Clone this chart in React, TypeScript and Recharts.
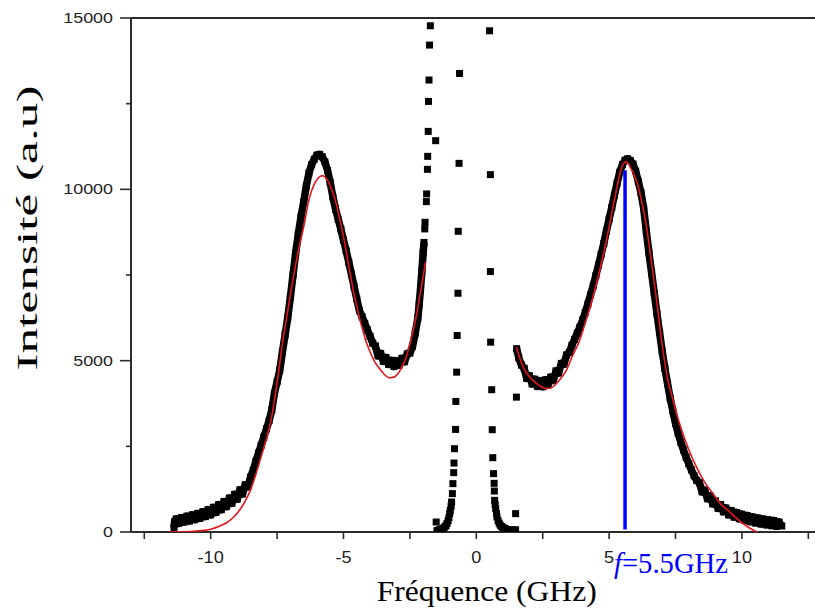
import React from "react";
import { ComposedChart, XAxis, YAxis, Line, Scatter, ReferenceLine } from "recharts";

// ---------- data ----------
// Broad left Brillouin peak (black squares) [GHz, intensity]
const leftPeak: [number, number][] = [
  [-11.38, 120], [-11.36, 300], [-11.3, 380], [-11.2, 250], [-11.1, 420], [-11.0, 290], [-10.9, 460], [-10.8, 320],
  [-10.7, 500], [-10.6, 360], [-10.5, 540], [-10.4, 400], [-10.3, 590], [-10.2, 450], [-10.1, 650], [-10.0, 500],
  [-9.9, 720], [-9.8, 570], [-9.7, 800], [-9.6, 650], [-9.5, 890], [-9.4, 740], [-9.3, 990], [-9.2, 840],
  [-9.1, 1100], [-9.0, 960], [-8.9, 1230], [-8.8, 1110], [-8.7, 1380], [-8.6, 1320], [-8.5, 1600], [-8.4, 1800],
  [-8.3, 2060], [-8.2, 2300], [-8.1, 2530], [-8.0, 2770], [-7.9, 3010], [-7.8, 3250], [-7.7, 3560], [-7.6, 4050],
  [-7.5, 4380], [-7.4, 4720], [-7.3, 5250], [-7.2, 5750], [-7.1, 6250], [-7.0, 6850], [-6.9, 7500], [-6.8, 8150],
  [-6.7, 8700], [-6.6, 9200], [-6.5, 9620], [-6.4, 10100], [-6.3, 10480], [-6.2, 10720], [-6.1, 10880], [-6.0, 11000],
  [-5.9, 11020], [-5.8, 10950], [-5.7, 10800], [-5.6, 10550], [-5.5, 10200], [-5.4, 9780], [-5.3, 9430], [-5.2, 9130],
  [-5.1, 8840], [-5.0, 8520], [-4.9, 8210], [-4.8, 7870], [-4.7, 7520], [-4.6, 7160], [-4.5, 6800], [-4.4, 6460],
  [-4.3, 6280], [-4.2, 6090], [-4.1, 5900], [-4.0, 5710], [-3.9, 5510], [-3.8, 5430], [-3.7, 5140], [-3.6, 5210],
  [-3.5, 4980], [-3.4, 5090], [-3.3, 4890], [-3.2, 5010], [-3.1, 4830], [-3.0, 5000], [-2.9, 4870], [-2.8, 5070],
  [-2.7, 4970], [-2.6, 5200], [-2.5, 5220], [-2.4, 5420], [-2.3, 5800], [-2.2, 6250], [-2.15, 6650], [-2.1, 7100],
  [-2.05, 7600], [-2.0, 8150], [-1.97, 8450],
];

// Broad right Brillouin peak (black squares)
const rightPeak: [number, number][] = [
  [1.52, 5350], [1.6, 5080], [1.7, 4870], [1.8, 4780], [1.9, 4480], [2.0, 4560], [2.1, 4320], [2.2, 4460],
  [2.3, 4250], [2.4, 4420], [2.5, 4240], [2.6, 4440], [2.7, 4290], [2.8, 4520], [2.9, 4420], [3.0, 4700],
  [3.1, 4640], [3.2, 4920], [3.3, 4900], [3.4, 5170], [3.5, 5240], [3.6, 5450], [3.7, 5620], [3.8, 5800],
  [3.9, 5980], [4.0, 6180], [4.1, 6400], [4.2, 6650], [4.3, 6920], [4.4, 7180], [4.5, 7480], [4.6, 7790],
  [4.7, 8100], [4.8, 8420], [4.9, 8790], [5.0, 9130], [5.1, 9470], [5.2, 9830], [5.3, 10180], [5.4, 10500],
  [5.5, 10720], [5.6, 10850], [5.7, 10890], [5.8, 10840], [5.9, 10740], [6.0, 10530], [6.1, 10230], [6.2, 9900],
  [6.3, 9450], [6.4, 8780], [6.5, 8150], [6.6, 7560], [6.7, 6970], [6.8, 6380], [6.9, 5820], [7.0, 5260],
  [7.1, 4770], [7.2, 4330], [7.3, 3900], [7.4, 3530], [7.5, 3170], [7.6, 2880], [7.7, 2620], [7.8, 2390],
  [7.9, 2180], [8.0, 1990], [8.1, 1810], [8.2, 1640], [8.3, 1500], [8.4, 1440], [8.5, 1170], [8.6, 1220],
  [8.7, 970], [8.8, 1050], [8.9, 820], [9.0, 910], [9.1, 690], [9.2, 800], [9.3, 590], [9.4, 700],
  [9.5, 500], [9.6, 625], [9.7, 435], [9.8, 570], [9.9, 385], [10.0, 520], [10.1, 340], [10.2, 480],
  [10.3, 300], [10.4, 440], [10.5, 265], [10.6, 410], [10.7, 235], [10.8, 380], [10.9, 210], [11.0, 355],
  [11.1, 185], [11.2, 335], [11.3, 165], [11.4, 290], [11.5, 175],
];

// Central (Rayleigh) line: sparse points of its flanks
const centerFlank: [number, number][] = [
  [-1.94, 8845], [-1.93, 9038], [-1.88, 9641], [-1.87, 9866], [-1.84, 10583], [-1.83, 10962],
  [-1.81, 11691], [-1.53, 11420], [-1.8, 12566], [-1.78, 13190], [-1.76, 14210], [-1.73, 14773],
];
const centerLeft: [number, number][] = [
  [-0.63, 13382], [-0.65, 10758], [-0.68, 8776], [-0.69, 6968], [-0.72, 5735], [-0.74, 4665], [-0.77, 3810],
  [-0.78, 2994], [-0.82, 2431], [-0.84, 2012], [-0.85, 1732], [-0.88, 1411], [-0.9, 1120], [-0.93, 875],
  [-0.95, 750], [-0.98, 633], [-1.0, 540], [-1.03, 420], [-1.06, 330], [-1.1, 250], [-1.14, 190],
  [-1.18, 150], [-1.23, 115], [-1.28, 95], [-1.33, 78], [-1.38, 65], [-1.43, 50], [-1.48, 40], [-1.51, 292],
];
const centerRight: [number, number][] = [
  [0.5, 14627], [0.53, 10429], [0.53, 7600], [0.54, 5540], [0.58, 4152], [0.6, 2985], [0.62, 2169],
  [0.65, 1703], [0.67, 1420], [0.68, 1195], [0.69, 924], [0.71, 800], [0.73, 682], [0.76, 540], [0.78, 437],
  [0.82, 330], [0.86, 255], [0.9, 200], [0.95, 160], [1.0, 130], [1.06, 105], [1.12, 85], [1.18, 72],
  [1.25, 60], [1.32, 52], [1.4, 55], [1.48, 65], [1.48, 536], [1.51, 3936],
];

// Fitted curves (red)
const fitLeft: [number, number][] = [
  [-11.55, 0], [-11.2, 5], [-10.8, 15], [-10.4, 35], [-10.0, 80], [-9.7, 160], [-9.4, 270], [-9.1, 460],
  [-8.9, 650], [-8.7, 900], [-8.5, 1230], [-8.3, 1680], [-8.1, 2200], [-7.9, 2720], [-7.7, 3380], [-7.5, 4350],
  [-7.3, 5500], [-7.1, 6450], [-6.9, 7380], [-6.7, 8200], [-6.5, 8900], [-6.3, 9700], [-6.1, 10150], [-5.95, 10330],
  [-5.8, 10400], [-5.65, 10320], [-5.53, 10156], [-5.4, 9900], [-5.27, 9573], [-5.15, 9160], [-5.02, 8699], [-4.9, 8200],
  [-4.77, 7630], [-4.65, 7130], [-4.52, 6659], [-4.4, 6250], [-4.27, 5881], [-4.15, 5560], [-4.02, 5297], [-3.85, 5000],
  [-3.64, 4764], [-3.45, 4590], [-3.29, 4501], [-3.1, 4520], [-2.95, 4618], [-2.8, 4820], [-2.64, 5102], [-2.5, 5500],
  [-2.32, 6076], [-2.2, 6550], [-2.07, 7143], [-1.91, 7872],
];
const fitRight: [number, number][] = [
  [1.51, 5394], [1.65, 5050], [1.8, 4760], [1.95, 4580], [2.13, 4423], [2.4, 4260], [2.64, 4181], [2.85, 4220],
  [3.01, 4326], [3.2, 4500], [3.39, 4714], [3.6, 5100], [3.89, 5589], [4.1, 6100], [4.39, 6853], [4.65, 7650],
  [4.9, 8513], [5.1, 9300], [5.27, 9962], [5.42, 10500], [5.55, 10760], [5.65, 10800], [5.77, 10690], [5.9, 10480],
  [6.03, 10253], [6.2, 9750], [6.4, 8950], [6.6, 7850], [6.8, 6700], [7.0, 5450], [7.2, 4480], [7.41, 3840],
  [7.6, 3300], [7.78, 2868], [8.0, 2400], [8.29, 1895], [8.6, 1450], [8.91, 1120], [9.2, 820], [9.54, 583],
  [9.8, 400], [10.04, 245], [10.3, 110], [10.55, 0],
];

// Marked frequency
const markerFreq = 5.6;
const markerTop = 10560;
const markerText = "=5.5GHz";

// Axes
const xDomain: [number, number] = [-13, 13];
const xTicks = [-12.5, -10, -7.5, -5, -2.5, 0, 2.5, 5, 7.5, 10, 12.5];
const xLabelled = [-10, -5, 0, 5, 10];
const yDomain: [number, number] = [0, 15000];
const yTicks = [0, 2500, 5000, 7500, 10000, 12500, 15000];
const yLabelled = [0, 5000, 10000, 15000];
const xTitle = "Fréquence (GHz)";
const yTitle = "Intensité (a.u)";

const pts = (a: [number, number][]) => a.map(([x, y]) => ({ x, y }));

const AXIS = "#2b2b2b";
const SANS = "'Liberation Sans', Arial, sans-serif";
const SERIF = "'Liberation Serif', 'Times New Roman', serif";

const Square = (p: any) => {
  if (p.cx == null || p.cy == null) return <g />;
  return <rect x={p.cx - 3.5} y={p.cy - 3.5} width={7} height={7} fill="#000" />;
};

const XTick = (p: any) => {
  const { x, y, payload } = p;
  const v = payload.value;
  const lab = xLabelled.includes(v);
  return (
    <g>
      <line x1={x} x2={x} y1={y} y2={y + 7} stroke={AXIS} strokeWidth={1.6} />
      {lab && (
        <text x={x} y={y + 31} textAnchor="middle" fontFamily={SANS} fontSize={16.5} fill="#222"
          transform={`translate(${x},0) scale(1.1,1) translate(${-x},0)`}>
          {String(v)}
        </text>
      )}
    </g>
  );
};

const YTick = (p: any) => {
  const { x, y, payload } = p;
  const v = payload.value;
  const lab = yLabelled.includes(v);
  return (
    <g>
      <line x1={x - (lab ? 11 : 5)} x2={x} y1={y} y2={y} stroke={AXIS} strokeWidth={1.6} />
      {lab && (
        <text x={0} y={0} textAnchor="end" fontFamily={SANS} fontSize={14} fill="#222"
          transform={`translate(${x - 18},${y + 5}) scale(1.28,1)`}>
          {String(v)}
        </text>
      )}
    </g>
  );
};

export default function App() {
  return (
    <div style={{ position: "absolute", left: 0, top: 0, width: 815, height: 610, overflow: "hidden", background: "#fff" }}>
      <ComposedChart width={830} height={610} margin={{ top: 18, right: 8.4, bottom: 38, left: 0 }}>
        <XAxis type="number" dataKey="x" domain={xDomain} ticks={xTicks} allowDataOverflow
          height={40} tickSize={0} tickMargin={0} tickLine={false} tick={<XTick />} interval={0}
          axisLine={{ stroke: AXIS, strokeWidth: 2 }} />
        <YAxis type="number" dataKey="y" domain={yDomain} ticks={yTicks} allowDataOverflow
          width={131} tickSize={0} tickMargin={0} tickLine={false} tick={<YTick />} interval={0}
          axisLine={{ stroke: AXIS, strokeWidth: 2 }} />
        <ReferenceLine y={15000} stroke={AXIS} strokeWidth={2} />
        <Line data={pts(leftPeak)} dataKey="y" type="linear" stroke="#000" strokeWidth={7.5}
          strokeLinejoin="round" dot={false} isAnimationActive={false} />
        <Line data={pts(rightPeak)} dataKey="y" type="linear" stroke="#000" strokeWidth={7.5}
          strokeLinejoin="round" dot={false} isAnimationActive={false} />
        <Scatter data={pts(leftPeak)} dataKey="y" shape={Square} isAnimationActive={false} />
        <Scatter data={pts(rightPeak)} dataKey="y" shape={Square} isAnimationActive={false} />
        <Scatter data={pts(centerFlank)} dataKey="y" shape={Square} isAnimationActive={false} />
        <Scatter data={pts(centerLeft)} dataKey="y" shape={Square} isAnimationActive={false} />
        <Scatter data={pts(centerRight)} dataKey="y" shape={Square} isAnimationActive={false} />
        <Line data={pts(fitLeft)} dataKey="y" type="monotone" stroke="#e3161c" strokeWidth={1.6}
          dot={false} isAnimationActive={false} zIndex={900} />
        <Line data={pts(fitRight)} dataKey="y" type="monotone" stroke="#e3161c" strokeWidth={1.6}
          dot={false} isAnimationActive={false} zIndex={900} />
        <ReferenceLine segment={[{ x: markerFreq, y: 70 }, { x: markerFreq, y: markerTop }]}
          stroke="#0000ff" strokeWidth={3.5} zIndex={1000} />
      </ComposedChart>
      <svg width={815} height={610} style={{ position: "absolute", left: 0, top: 0, pointerEvents: "none" }}>
        <text transform="translate(37,228) rotate(-90)" textAnchor="middle" fontFamily={SERIF} fontSize={30}
          fill="#000" textLength={285} lengthAdjust="spacingAndGlyphs">{yTitle}</text>
        <text x={486.7} y={601} textAnchor="middle" fontFamily={SERIF} fontSize={30} fill="#000"
          textLength={220} lengthAdjust="spacingAndGlyphs">{xTitle}</text>
        <text x={614} y={573} fontFamily={SERIF} fontSize={29} fill="#0000ff" textLength={114}
          lengthAdjust="spacingAndGlyphs">
          <tspan fontStyle="italic">f</tspan>{markerText}
        </text>
      </svg>
    </div>
  );
}
